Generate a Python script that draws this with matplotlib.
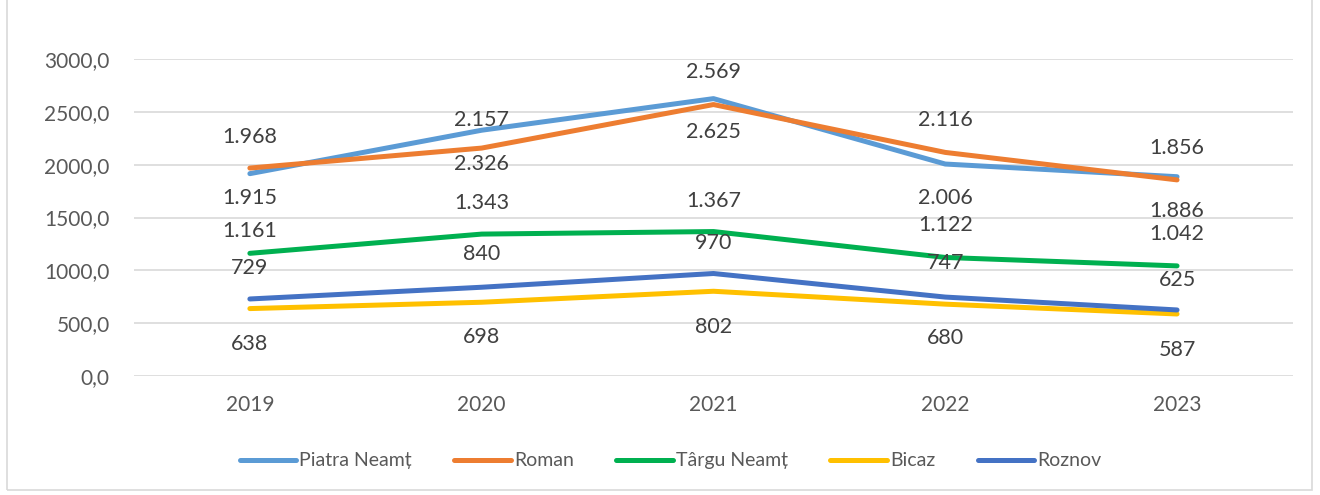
import matplotlib
matplotlib.use("Agg")
import matplotlib.pyplot as plt
from matplotlib.patches import Rectangle

# data
years = ["2019", "2020", "2021", "2022", "2023"]
piatra = [1915, 2326, 2625, 2006, 1886]
roman = [1968, 2157, 2569, 2116, 1856]
targu = [1161, 1343, 1367, 1122, 1042]
bicaz = [638, 698, 802, 680, 587]
roznov = [729, 840, 970, 747, 625]
names = ["Piatra Neamț", "Roman", "Târgu Neamț", "Bicaz", "Roznov"]
yticks = [0, 500, 1000, 1500, 2000, 2500, 3000]

colors = ["#5B9BD5", "#ED7D31", "#00B050", "#FFC000", "#4472C4"]
# label offsets in pixels (positive = above the line)
offsets = [
    [-24, -34, -33, -34, -34],
    [31, 28, 33, 32, 32],
    [22, 31, 31, 32, 32],
    [-35, -35, -36, -34, -36],
    [31, 33, 31, 34, 30],
]

plt.rcParams['font.family'] = ['Lato', 'DejaVu Sans']

fig = plt.figure(figsize=(13.2, 4.95), dpi=100)
ax = fig.add_axes([0.1015, 0.2404, 0.878, 0.6404])

x = list(range(len(years)))
series = [piatra, roman, targu, bicaz, roznov]
for s, name, c in zip(series, names, colors):
    ax.plot(x, s, color=c, lw=3.6, label=name, solid_capstyle='round', zorder=3)

def fmt(v):
    return "{:,}".format(v).replace(",", ".")

for s, c, offs in zip(series, colors, offsets):
    for xi, v, o in zip(x, s, offs):
        ax.annotate(fmt(v), (xi, v), xytext=(0, o), textcoords='offset pixels',
                    ha='center', va='center', fontsize=15.5, color='#404040', zorder=4)

ax.set_xlim(-0.5, len(years) - 0.5)
ax.set_ylim(0, 3000)
ax.set_yticks(yticks)
ax.set_yticklabels(["{:.1f}".format(t).replace(".", ",") for t in yticks])
ax.set_xticks(x)
ax.set_xticklabels(years)
ax.tick_params(axis='both', length=0, labelsize=15, labelcolor='#595959')
ax.tick_params(axis='y', pad=17.5)
ax.tick_params(axis='x', pad=14)
ax.grid(axis='y', color='#D9D9D9', lw=1.2)
ax.set_axisbelow(True)
for sp in ax.spines.values():
    sp.set_visible(False)

leg = fig.legend(loc='center', bbox_to_anchor=(0.508, 0.069), ncol=5, frameon=False,
                 fontsize=14, handlelength=2.9, handletextpad=0.15, columnspacing=2.2,
                 labelcolor='#595959')

fig.patches.append(Rectangle((0.005, 0.01), 0.989, 1.2, transform=fig.transFigure,
                             fill=False, edgecolor='#D9D9D9', lw=1.2))

fig.savefig("out.png", dpi=100)
